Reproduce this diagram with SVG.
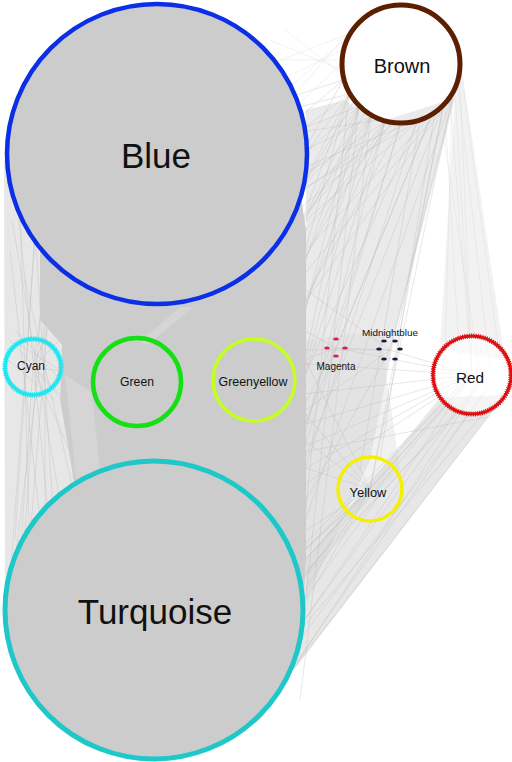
<svg xmlns="http://www.w3.org/2000/svg" width="512" height="762" viewBox="0 0 512 762">
<style>
.e{stroke:#bdbdbd;stroke-width:0.6;opacity:0.6;fill:none}
.f{stroke:#d2d2d2;stroke-width:0.5;opacity:0.6;fill:none}
.fill{fill:#cccccc}
.lbl{font-family:"Liberation Sans",Arial,sans-serif;fill:#111;text-anchor:middle;dominant-baseline:central}
.ring{fill:none}
.dot{stroke:none}
</style>
<rect width="512" height="762" fill="#ffffff"/>
<g id="connectors">
  <polygon points="345,100 380,122 455,98 395,335 370,460 306,600 306,110" fill="#d0d0d0" opacity="0.45"/>
  <polygon points="455,95 462,70 505,360 440,350" fill="#e6e6e6" opacity="0.5"/>
  <polygon points="440,398 505,395 294,670 300,640 306,560" fill="#d0d0d0" opacity="0.5"/>
  <polygon points="306,340 380,330 400,470 306,560" fill="#d6d6d6" opacity="0.35"/>
  <polygon points="4,160 45,160 40,320 62,345 60,400 72,470 90,610 5,610" fill="#d4d4d4" opacity="0.55"/>
  <path class="e" d="M359,106L250,150M359,106L250,200M359,106L250,260M359,106L250,330M359,106L250,420M359,106L250,520M359,106L250,620M359,106L300,650"/>
  <path class="e" d="M371,116L250,180M371,116L250,240M371,116L250,300M371,116L250,380M371,116L250,470M371,116L250,580M371,116L300,700"/>
  <path class="e" d="M349,94L250,120M349,94L250,170M349,94L250,230M349,94L250,290M349,94L250,360M349,94L250,450M349,94L290,660"/>
  <path class="e" d="M385,122L250,210M385,122L250,280M385,122L250,350M385,122L250,430M385,122L250,550M385,122L250,650"/>
  <path class="e" d="M343,80L250,110M343,80L250,160M343,80L250,250M401,124L250,250M401,124L250,400M401,124L250,600"/>
  <path class="e" d="M417,122L250,270M417,122L250,500M417,122L250,640M431,116L250,310M431,116L250,560M443,106L250,340M443,106L250,600M453,94L250,380M453,94L250,680"/>
  <path class="e" d="M410,123L250,190M395,123L250,230M380,120L250,140M365,112L250,320M355,100L250,270M420,120L250,220M392,123L250,300"/>
  <path class="f" d="M342,60L250,60M342,50L260,90M345,40L250,120M342,70L270,40M346,35L280,60M341,64L250,150M350,30L290,100M343,75L285,30"/>
  <path class="e" d="M453,94L370,489M443,106L370,489M455,90L390,350M445,100L395,345M431,116L336,348M400,124L336,340M420,120L360,470M435,112L380,460"/>
  <path class="f" d="M455,92L472,375M460,80L472,375M450,100L472,375M445,108L460,370M458,85L490,370M440,112L480,375M461,70L500,360M452,97L445,360"/>
  <path class="e" d="M472,375L250,640M472,375L250,700M480,380L260,680M465,380L240,620M490,385L240,720M460,385L250,600M475,390L230,660M485,375L260,720M505,395L265,705M495,400L250,690M470,400L240,640M482,395L270,700M455,395L250,620"/>
  <path class="e" d="M472,375L250,440M472,375L250,470M472,375L250,400M472,375L250,360M487,417L250,462M472,375L250,520M460,380L250,500"/>
  <path class="e" d="M370,489L250,600M370,489L250,650M370,489L240,690M370,489L260,560M370,489L230,620M370,489L250,700M370,489L250,400M370,489L250,450M370,489L250,350M370,489L250,250M370,489L472,375M360,500L250,620M380,495L260,660"/>
  <path class="e" d="M336,348L250,300M336,348L250,380M336,348L250,500M336,348L250,620M390,350L250,350M390,350L250,450M390,350L250,600M390,350L250,250M390,350L472,375M336,348L472,375M336,348L390,350"/>
  <path class="e" d="M20,200L30,560M35,230L15,540M50,180L20,600M15,180L55,580M30,150L60,620M60,200L10,600M10,250L40,520M45,250L45,540M25,280L80,520M40,170L10,580M12,220L70,560M55,230L25,600"/>
  <path class="e" d="M33,367L100,200M33,367L150,250M33,367L100,520M33,367L150,500M33,367L50,250M33,367L20,560M33,367L137,382M10,340L60,395M15,330L65,385M8,360L55,400M20,345L60,370"/>
</g>
<g id="band">
  <polygon class="fill" points="40,240 300,190 306,230 306,560 303,610 90,610 72,470 60,400 62,345 40,320"/>
  <polygon points="193,307 180,307 140,342 148,345" fill="#dadada" opacity="0.6"/>
  <polygon points="65,375 92,392 100,470 76,478" fill="#d8d8d8" opacity="0.7"/>
</g>
<g id="node-blue">
  <circle cx="157" cy="154" r="150" fill="#cccccc" stroke="#0b2fe6" stroke-width="4.5"/>
  <text class="lbl" x="156" y="155" font-size="35">Blue</text>
</g>
<g id="node-turquoise">
  <circle cx="154" cy="610" r="149" fill="#cccccc" stroke="#1ec8c8" stroke-width="5"/>
  <text class="lbl" x="155" y="611" font-size="35">Turquoise</text>
</g>
<g id="node-brown">
  <circle class="ring" cx="401" cy="64" r="59" stroke="#5c1f00" stroke-width="5"/>
  <text class="lbl" x="402" y="66" font-size="20">Brown</text>
</g>
<g id="node-cyan">
  <circle class="ring" cx="33" cy="367" r="28" stroke="#22e6f0" stroke-width="3.5"/>
  <circle class="ring" cx="33" cy="367" r="28" stroke="#22e6f0" stroke-width="5.5" stroke-dasharray="1 1.2"/>
  <text class="lbl" x="31" y="366" font-size="12">Cyan</text>
</g>
<g id="node-green">
  <circle class="ring" cx="137" cy="382" r="44" stroke="#14e014" stroke-width="4.5"/>
  <text class="lbl" x="137" y="382" font-size="12.2">Green</text>
</g>
<g id="node-greenyellow">
  <circle class="ring" cx="254" cy="380" r="41" stroke="#c4ff20" stroke-width="3.5"/>
  <text class="lbl" x="253" y="382" font-size="12.4">Greenyellow</text>
</g>
<g id="node-red">
  <circle cx="472" cy="375" r="39" fill="#ffffff" fill-opacity="0.6" stroke="#e01010" stroke-width="3"/>
  <circle class="ring" cx="472" cy="375" r="39" stroke="#e01010" stroke-width="5" stroke-dasharray="1 1.2"/>
  <text class="lbl" x="470" y="377" font-size="15.3">Red</text>
</g>
<g id="node-yellow">
  <circle class="ring" cx="370" cy="489" r="32" stroke="#f5f000" stroke-width="3.5"/>
  <text class="lbl" x="368" y="492" font-size="12.9">Yellow</text>
</g>
<g id="node-magenta">
  <ellipse class="dot" cx="336" cy="339" rx="2.8" ry="1.5" fill="#d81b5a"/>
  <ellipse class="dot" cx="327" cy="348" rx="2.8" ry="1.5" fill="#d81b5a"/>
  <ellipse class="dot" cx="345" cy="348" rx="2.8" ry="1.5" fill="#d81b5a"/>
  <ellipse class="dot" cx="336" cy="356" rx="2.8" ry="1.5" fill="#d81b5a"/>
  <text class="lbl" x="336" y="366" font-size="10">Magenta</text>
</g>
<g id="node-midnightblue">
  <ellipse class="dot" cx="384" cy="341" rx="2.8" ry="1.5" fill="#1a1a40"/>
  <ellipse class="dot" cx="395" cy="341" rx="2.8" ry="1.5" fill="#1a1a40"/>
  <ellipse class="dot" cx="379" cy="349" rx="2.8" ry="1.5" fill="#1a1a40"/>
  <ellipse class="dot" cx="400" cy="349" rx="2.8" ry="1.5" fill="#1a1a40"/>
  <ellipse class="dot" cx="384" cy="359" rx="2.8" ry="1.5" fill="#1a1a40"/>
  <ellipse class="dot" cx="395" cy="359" rx="2.8" ry="1.5" fill="#1a1a40"/>
  <text class="lbl" x="390" y="332" font-size="9.9">Midnightblue</text>
</g>
</svg>
